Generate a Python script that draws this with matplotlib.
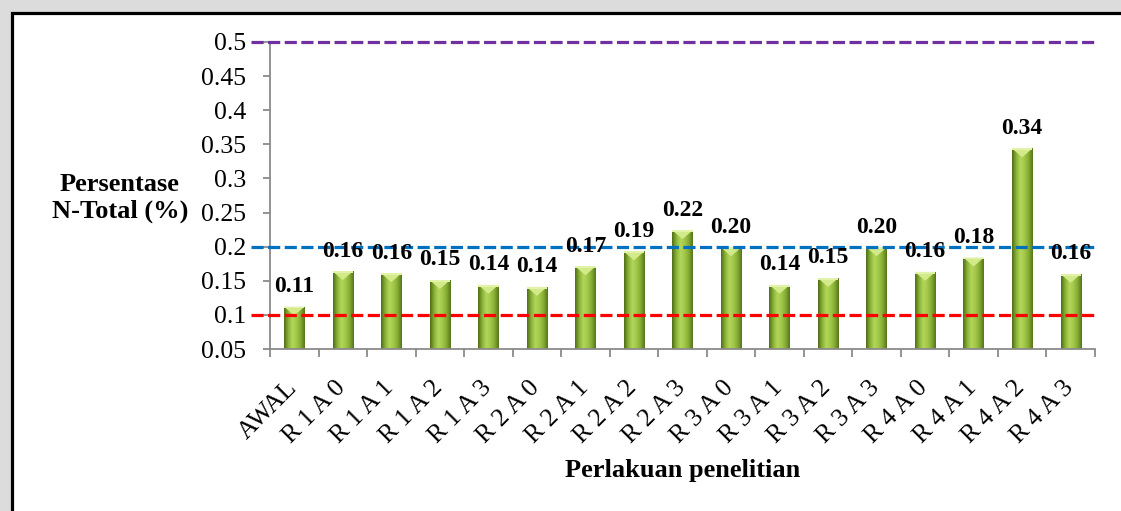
import numpy as np
import matplotlib
matplotlib.use("Agg")
import matplotlib.pyplot as plt
from matplotlib.patches import Rectangle, Polygon
from matplotlib.colors import LinearSegmentedColormap
from matplotlib.transforms import ScaledTranslation

# N-total per treatment
categories = ["AWAL", "R 1 A 0", "R 1 A 1", "R 1 A 2", "R 1 A 3", "R 2 A 0",
              "R 2 A 1", "R 2 A 2", "R 2 A 3", "R 3 A 0", "R 3 A 1", "R 3 A 2",
              "R 3 A 3", "R 4 A 0", "R 4 A 1", "R 4 A 2", "R 4 A 3"]
n_total = [0.112, 0.164, 0.161, 0.151, 0.144, 0.141, 0.171, 0.193, 0.224,
           0.199, 0.144, 0.154, 0.199, 0.163, 0.184, 0.344, 0.160]

# reference levels (dashed lines)
ref_levels = [0.5, 0.2, 0.1]
ref_colors = ["#7030a0", "#0070c0", "#ff0000"]

y_ticks = [0.05, 0.1, 0.15, 0.2, 0.25, 0.3, 0.35, 0.4, 0.45, 0.5]

plt.rcParams["font.family"] = ["Liberation Serif", "DejaVu Serif"]

W, H = 1121, 511
fig = plt.figure(figsize=(W / 100, H / 100), dpi=100)
fig.patch.set_facecolor("#dcdcdc")

# white panel with black frame
panel = Rectangle((12 / W, -0.05), 1.1, 1 - 13 / H + 0.05, transform=fig.transFigure,
                  facecolor="white", edgecolor="black", linewidth=2.3, zorder=-10)
fig.patches.append(panel)

ax = fig.add_axes([270 / W, 1 - 349 / H, (1095 - 270) / W, (349 - 42) / H])
ax.set_facecolor("none")

x = np.arange(len(categories))
width = 0.42
ymin, ymax = 0.05, 0.5

# cylinder-like shading for the bars
shade = LinearSegmentedColormap.from_list(
    "shade", ["#4f6e18", "#8ab237", "#b3d65a", "#a2c84a", "#86ab33", "#55761c"])
grad = np.linspace(0, 1, 64).reshape(1, -1)

bars = ax.bar(x, np.array(n_total) - ymin, width, bottom=ymin,
              facecolor="none", edgecolor="none", zorder=2)
for b, xi, v in zip(bars, x, n_total):
    im = ax.imshow(grad, cmap=shade, aspect="auto", zorder=2,
                   extent=[xi - width / 2, xi + width / 2, ymin, v])
    im.set_clip_path(b)
    # lighter chevron at the top of each bar
    tri = Polygon([[xi - width / 2, v], [xi + width / 2, v], [xi, v - 0.013]],
                  closed=True, facecolor="#d2ea8a", edgecolor="none", zorder=3)
    ax.add_patch(tri)
    ax.add_patch(Rectangle((xi - width / 2, v - 0.0025), width, 0.0025,
                           facecolor="#e2f2a8", edgecolor="none", zorder=3))
    ax.annotate(f"{v:.2f}", (xi, v), xytext=(0, 7), textcoords="offset points",
                ha="center", va="bottom", fontsize=17, fontweight="bold", zorder=5)

# dashed reference lines, reaching a little past the y axis
for lvl, c in zip(ref_levels, ref_colors):
    ax.plot([-0.9, len(categories) - 0.5], [lvl, lvl], color=c, lw=2.3,
            dashes=(3.8, 1.4), clip_on=False, zorder=4)

ax.set_xlim(-0.5, len(categories) - 0.5)
ax.set_ylim(ymin, ymax)

ax.set_yticks(y_ticks)
ax.set_yticklabels([f"{t:g}" for t in y_ticks])
ax.set_xticks(np.arange(-0.5, len(categories)))
ax.set_xticklabels([])

# slanted category labels, hung just below each bar
lbl_trans = ax.get_xaxis_transform() + ScaledTranslation(7 / 100, -28 / 100, fig.dpi_scale_trans)
for xi, name in zip(x, categories):
    ax.text(xi, 0, name, transform=lbl_trans, rotation=45, ha="right", va="top",
            fontsize=18.5, clip_on=False)

for s in ["top", "right"]:
    ax.spines[s].set_visible(False)
for s in ["left", "bottom"]:
    ax.spines[s].set_color("#8a8a8a")
    ax.spines[s].set_linewidth(1.3)
ax.tick_params(axis="y", length=5, width=1.3, color="#8a8a8a", labelsize=18.5, pad=12)
ax.tick_params(axis="x", which="major", length=6, width=1.3, color="#8a8a8a")

fig.text(120 / W, 1 - 198 / H, "Persentase\nN-Total (%)", ha="center", va="center",
         fontsize=19, fontweight="bold", linespacing=1.25)
fig.text(683 / W, 1 - 470 / H, "Perlakuan penelitian", ha="center", va="center",
         fontsize=19, fontweight="bold")

plt.savefig("out.png", dpi=100)
